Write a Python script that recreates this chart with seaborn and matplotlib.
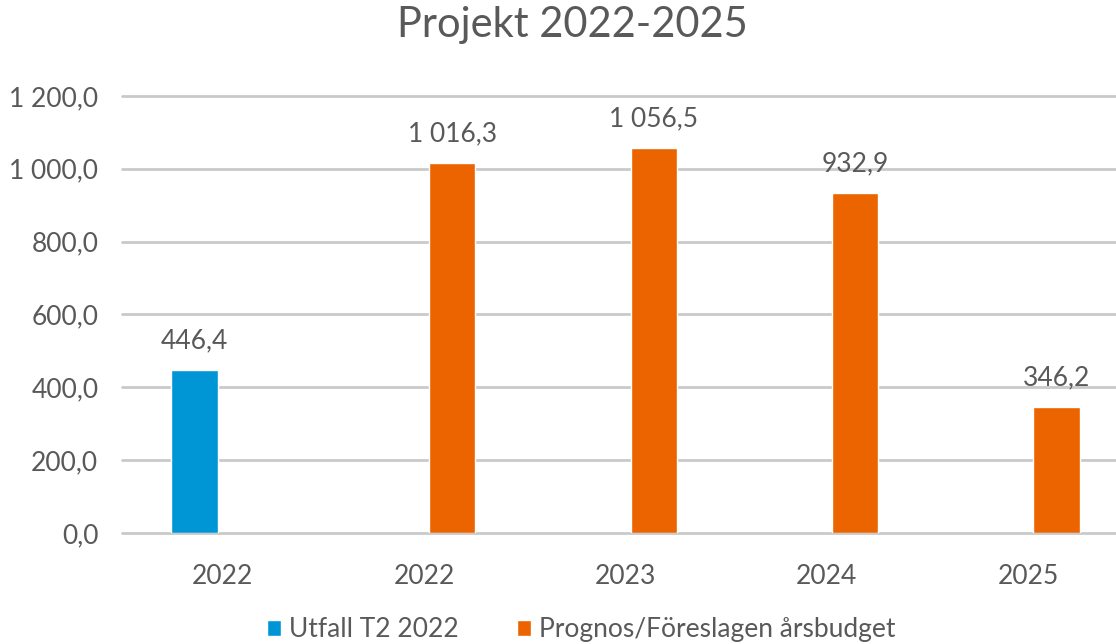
"""Projekt 2022-2025: utfall och prognos per år."""

import matplotlib.pyplot as plt
import pandas as pd
import seaborn as sns

# --- data ---
categories = ["2022 ", "2022", "2023", "2024", "2025"]
series_names = ["Utfall T2 2022", "Prognos/Föreslagen årsbudget"]
utfall = [446.4, None, None, None, None]
prognos = [None, 1016.3, 1056.5, 932.9, 346.2]
y_ticks = [0, 200, 400, 600, 800, 1000, 1200]

colors = ["#0096D6", "#EB6400"]
text_color = "#595959"


def fmt_sv(v: float) -> str:
    """Svensk formatering: mellanslag som tusentalsavgränsare, komma som decimal."""
    s = f"{v:,.1f}"
    return s.replace(",", " ").replace(".", ",")


df = pd.DataFrame(
    {
        "kategori": categories * 2,
        "serie": [series_names[0]] * len(categories) + [series_names[1]] * len(categories),
        "varde": utfall + prognos,
    }
)

sns.set_theme(style="white")
plt.rcParams["font.family"] = ["Lato", "DejaVu Sans"]

fig = plt.figure(figsize=(11.16, 6.44), dpi=100)
ax = fig.add_axes([0.1093, 0.1724, 0.9024, 0.6786])

sns.barplot(
    data=df,
    x="kategori",
    y="varde",
    hue="serie",
    order=categories,
    hue_order=series_names,
    palette=colors,
    width=0.56,
    gap=0.18,
    saturation=1,
    ax=ax,
)

# datatiketter
for container in ax.containers:
    labels = [fmt_sv(v) if v == v and v > 0 else "" for v in container.datavalues]
    ax.bar_label(container, labels=labels, padding=12, fontsize=19, color=text_color)

ax.set_ylim(0, 1200)
ax.set_xlim(-0.5, 4.5)
ax.set_yticks(y_ticks)
ax.set_yticklabels([fmt_sv(v) for v in y_ticks])
ax.set_xticks(range(len(categories)))
ax.set_xticklabels([c.strip() for c in categories])
ax.tick_params(axis="both", length=0, labelsize=19, labelcolor=text_color)
ax.tick_params(axis="y", pad=17)
ax.tick_params(axis="x", pad=22)
ax.set_xlabel("")
ax.set_ylabel("")

ax.yaxis.grid(True, color="#CACACA", linewidth=2)
for line in ax.get_ygridlines():
    line.set_clip_on(False)
ax.set_axisbelow(True)
for spine in ax.spines.values():
    spine.set_visible(False)

fig.suptitle("Projekt 2022-2025", x=0.513, y=0.99, fontsize=30, color=text_color)

handles, labels = ax.get_legend_handles_labels()
ax.legend(
    handles,
    labels,
    loc="upper center",
    bbox_to_anchor=(0.456, -0.138),
    ncol=2,
    frameon=False,
    fontsize=19,
    labelcolor=text_color,
    handlelength=0.55,
    handleheight=0.55,
    handletextpad=0.3,
    columnspacing=2.2,
)

fig.savefig("out.png", dpi=100)
plt.close(fig)
